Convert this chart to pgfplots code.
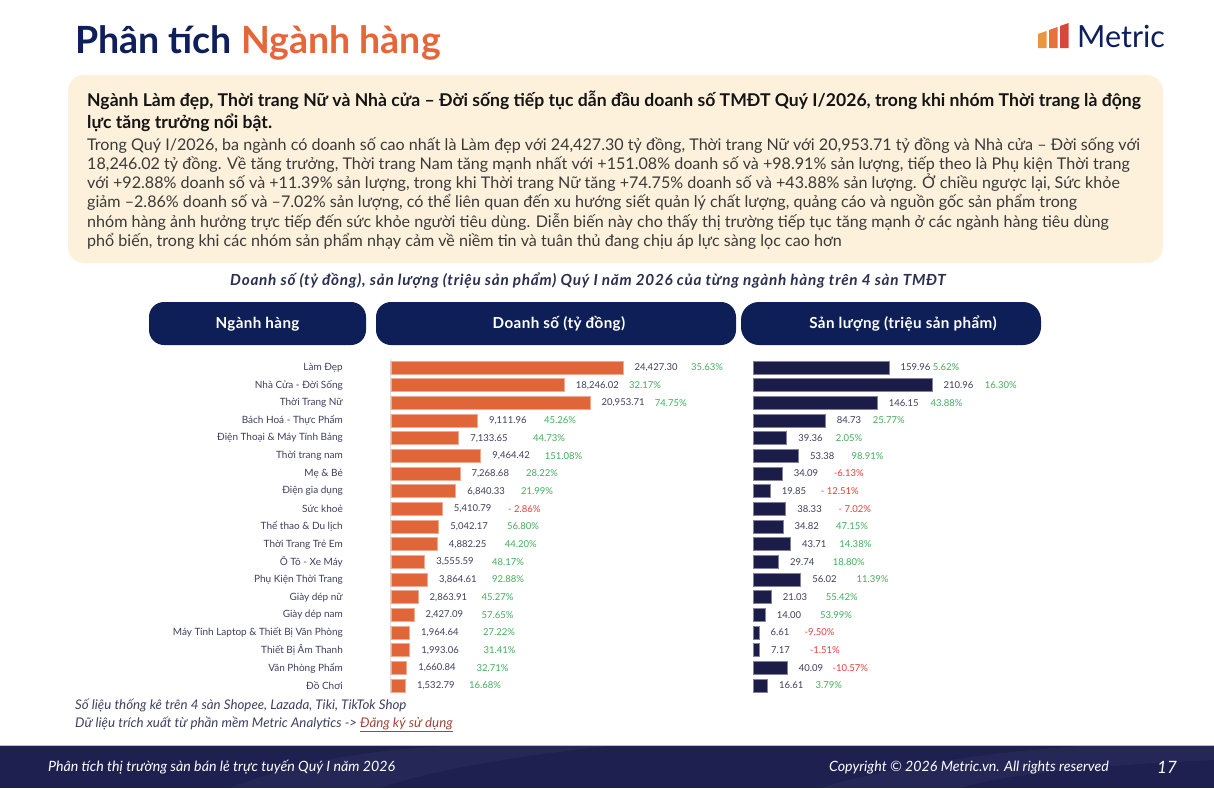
\documentclass[border=0pt]{standalone}
\usepackage{pgfplots}
\pgfplotsset{compat=1.18}
\usepackage{pgfplotstable}
\usepackage{fontspec}
\setmainfont{Lato}
\definecolor{navy}{HTML}{0E1F5B}
\definecolor{pill}{HTML}{0E1F58}
\definecolor{orng}{HTML}{E4673A}
\definecolor{barO}{HTML}{E0663A}
\definecolor{barN}{HTML}{1C1C48}
\definecolor{beige}{HTML}{FDF1DC}
\definecolor{pgreen}{HTML}{45AD5B}
\definecolor{pred}{HTML}{E5403A}
\definecolor{lbl}{HTML}{3D4060}
\definecolor{foot}{HTML}{1E2050}
\definecolor{ttl}{HTML}{2C3050}
\definecolor{body}{HTML}{3A3A3A}
\definecolor{linkred}{HTML}{A0453A}
\definecolor{logoA}{HTML}{E9963F}
\definecolor{logoB}{HTML}{E8703F}
\definecolor{logoC}{HTML}{D9473A}

\pgfplotstableread{
idx rev rpx rpct vol vpx vpct
0 24427.30 31600 35.63 159.96 211.8 5.62
1 18246.02 25074 32.17 210.96 273.2 16.30
2 20953.71 27768 74.75 146.15 209.0 43.88
3 9111.96 16126 45.26 84.73 141.0 25.77
4 7133.65 14968 44.73 39.36 97.3 2.05
5 9464.42 16189 151.08 53.38 115.7 98.91
6 7268.68 14232 28.22 34.09 94.9 -6.13
7 6840.33 13705 21.99 19.85 79.6 {- 12.51}
8 5410.79 12337 {- 2.86} 38.33 100.4 {- 7.02}
9 5042.17 12232 56.80 34.82 97.6 47.15
10 4882.25 11979 44.20 43.71 101.5 14.38
11 3555.59 10653 48.17 29.74 93.7 18.80
12 3864.61 10653 92.88 56.02 121.6 11.39
13 2863.91 9547 45.27 21.03 85.5 55.42
14 2427.09 9547 57.65 14.00 78.7 53.99
15 1964.64 9705 27.22 6.61 60.2 -9.50
16 1993.06 9758 31.41 7.17 66.6 -1.51
17 1660.84 9021 32.71 40.09 93.3 -10.57
18 1532.79 8232 16.68 16.61 73.2 3.79
}\data

\newcommand{\lblfont}{\fontsize{9.5}{11}\selectfont}
\def\pctfmt#1{\pctfmtA#1\relax}
\def\pctfmtA#1#2\relax{\ifx-#1\color{pred}\else\color{pgreen}\fi#1#2\%}
\newcommand{\pctlabel}{\expandafter\pctfmt\expandafter{\pgfplotspointmeta}}
\begin{document}
\begin{tikzpicture}
\useasboundingbox (0,0) rectangle (1214pt,-788pt);
\fill[white] (0,0) rectangle (1214pt,-788pt);

% title
\node[anchor=base west, inner sep=0, font=\fontsize{37.5}{42}\selectfont\bfseries, text=navy] at (75pt,-53pt) {Phân tích \textcolor{orng}{Ngành hàng}};
% logo
\fill[logoA] (1038pt,-48pt) -- (1046.5pt,-48pt) -- (1046.5pt,-31pt) -- (1038pt,-34pt) -- cycle;
\fill[logoB] (1049pt,-48pt) -- (1057.5pt,-48pt) -- (1057.5pt,-27pt) -- (1049pt,-30pt) -- cycle;
\fill[logoC] (1060pt,-48pt) -- (1068.5pt,-48pt) -- (1068.5pt,-23pt) -- (1060pt,-26pt) -- cycle;
\node[anchor=base west, inner sep=0, font=\fontsize{30.5}{32}\selectfont, text=navy] at (1077pt,-47pt) {Metric};

% summary box
\fill[beige, rounded corners=16pt] (68pt,-75pt) rectangle (1163pt,-263pt);
\begin{scope}[every node/.style={anchor=base west, inner sep=0}]
\node[font=\fontsize{17.6}{20}\selectfont\bfseries, text=black!92] at (87pt,-106pt) {Ngành Làm đẹp, Thời trang Nữ và Nhà cửa – Đời sống tiếp tục dẫn đầu doanh số TMĐT Quý I/2026, trong khi nhóm Thời trang là động};
\node[font=\fontsize{17.6}{20}\selectfont\bfseries, text=black!92] at (87pt,-128pt) {lực tăng trưởng nổi bật.};
\tikzset{bt/.style={font=\fontsize{16.1}{18}\selectfont, text=body}}
\node[bt] at (87pt,-150pt) {Trong Quý I/2026, ba ngành có doanh số cao nhất là Làm đẹp với 24,427.30 tỷ đồng, Thời trang Nữ với 20,953.71 tỷ đồng và Nhà cửa – Đời sống với};
\node[bt] at (87pt,-169.3pt) {18,246.02 tỷ đồng. Về tăng trưởng, Thời trang Nam tăng mạnh nhất với +151.08\% doanh số và +98.91\% sản lượng, tiếp theo là Phụ kiện Thời trang};
\node[bt] at (87pt,-188.6pt) {với +92.88\% doanh số và +11.39\% sản lượng, trong khi Thời trang Nữ tăng +74.75\% doanh số và +43.88\% sản lượng. Ở chiều ngược lại, Sức khỏe};
\node[bt] at (87pt,-207.9pt) {giảm –2.86\% doanh số và –7.02\% sản lượng, có thể liên quan đến xu hướng siết quản lý chất lượng, quảng cáo và nguồn gốc sản phẩm trong};
\node[bt] at (87pt,-227.2pt) {nhóm hàng ảnh hưởng trực tiếp đến sức khỏe người tiêu dùng. Diễn biến này cho thấy thị trường tiếp tục tăng mạnh ở các ngành hàng tiêu dùng};
\node[bt] at (87pt,-246.5pt) {phổ biến, trong khi các nhóm sản phẩm nhạy cảm về niềm tin và tuân thủ đang chịu áp lực sàng lọc cao hơn};
\end{scope}

% chart title
\node[font=\fontsize{15.3}{17}\selectfont\bfseries\itshape\addfontfeature{LetterSpace=4.8}, text=ttl] at (588pt,-281pt) {Doanh số (tỷ đồng), sản lượng (triệu sản phẩm) Quý I năm 2026 của từng ngành hàng trên 4 sàn TMĐT};

% header pills
\fill[pill, rounded corners=15pt] (149pt,-302pt) rectangle (366pt,-345pt);
\fill[pill, rounded corners=15pt] (376pt,-302pt) rectangle (736pt,-345pt);
\fill[pill, rounded corners=18pt] (741pt,-302pt) rectangle (1041pt,-345pt);
\begin{scope}[every node/.style={text=white, font=\fontsize{15.2}{17}\selectfont\bfseries\addfontfeature{LetterSpace=2.5}}]
\node at (257.5pt,-324pt) {Ngành hàng};
\node at (559pt,-324pt) {Doanh số (tỷ đồng)};
\node at (903pt,-324pt) {Sản lượng (triệu sản phẩm)};
\end{scope}

% revenue chart
\begin{axis}[at={(390.8pt,-358.7pt)}, anchor=north west, scale only axis,
  width=332.5pt, height=335.7pt, xmin=0, xmax=35000, ymin=-0.5, ymax=18.5,
  y dir=reverse, axis x line=none, axis y line*=left,
  y axis line style={-, draw=black!13, line width=1pt},
  ytick={0,...,18}, major tick length=0pt, ytick style={draw=none},
  yticklabels={Làm Đẹp, Nhà Cửa - Đời Sống, Thời Trang Nữ, Bách Hoá - Thực Phẩm, Điện Thoại \& Máy Tính Bảng, Thời trang nam, Mẹ \& Bé, Điện gia dụng, Sức khoẻ, Thể thao \& Du lịch, Thời Trang Trẻ Em, Ô Tô - Xe Máy, Phụ Kiện Thời Trang, Giày dép nữ, Giày dép nam, Máy Tính Laptop \& Thiết Bị Văn Phòng, Thiết Bị Âm Thanh, Văn Phòng Phẩm, Đồ Chơi},
  yticklabel style={font=\fontsize{10}{12}\selectfont, text=lbl, anchor=east, inner sep=0pt, xshift=-47.8pt},
  clip=false, /pgf/number format/assume math mode=true]
\addplot[xbar, bar width=13pt, fill=barO, draw=barO!55!white, line width=0.6pt] table[x=rev, y=idx]{\data};
\addplot[draw=none, mark=none, point meta=x,
  nodes near coords={\pgfmathprintnumber[fixed, fixed zerofill, precision=2, 1000 sep={,}]{\pgfplotspointmeta}},
  nodes near coords style={anchor=west, inner sep=0pt, xshift=11.5pt, font=\lblfont, text=lbl}]
  table[x=rev, y=idx]{\data};
\addplot[draw=none, mark=none, point meta=explicit symbolic,
  nodes near coords={\pctlabel},
  nodes near coords style={anchor=west, inner sep=0pt, font=\lblfont}]
  table[x=rpx, y=idx, meta=rpct]{\data};
\end{axis}

% volume chart
\begin{axis}[at={(753.3pt,-358.7pt)}, anchor=north west, scale only axis,
  width=254.1pt, height=335.7pt, xmin=0, xmax=300, ymin=-0.5, ymax=18.5,
  y dir=reverse, axis lines=none, clip=false,
  /pgf/number format/assume math mode=true]
\addplot[xbar, bar width=13pt, fill=barN, draw=barN!55!white, line width=0.6pt] table[x=vol, y=idx]{\data};
\addplot[draw=none, mark=none, point meta=x,
  nodes near coords={\pgfmathprintnumber[fixed, fixed zerofill, precision=2, 1000 sep={,}]{\pgfplotspointmeta}},
  nodes near coords style={anchor=west, inner sep=0pt, xshift=11.5pt, font=\lblfont, text=lbl}]
  table[x=vol, y=idx]{\data};
\addplot[draw=none, mark=none, point meta=explicit symbolic,
  nodes near coords={\pctlabel},
  nodes near coords style={anchor=west, inner sep=0pt, font=\lblfont}]
  table[x=vpx, y=idx, meta=vpct]{\data};
\end{axis}

% footnotes
\begin{scope}[every node/.style={anchor=base west, inner sep=0, text=lbl, font=\fontsize{13.3}{15}\selectfont\itshape}]
\node at (75pt,-709pt) {Số liệu thống kê trên 4 sàn Shopee, Lazada, Tiki, TikTok Shop};
\node at (75pt,-727pt) {Dữ liệu trích xuất từ phần mềm Metric Analytics -> \textcolor{linkred}{\underline{Đăng ký sử dụng}}};
\end{scope}

% footer
\fill[foot] (0,-745pt) rectangle (1214pt,-788pt);
\fill[white, opacity=0.035] (230pt,-788pt) .. controls (300pt,-760pt) and (380pt,-748pt) .. (470pt,-745pt) -- (620pt,-745pt) .. controls (520pt,-755pt) and (430pt,-770pt) .. (380pt,-788pt) -- cycle;
\fill[white, opacity=0.035] (820pt,-788pt) .. controls (900pt,-765pt) and (1000pt,-750pt) .. (1100pt,-745pt) -- (1214pt,-745pt) -- (1214pt,-760pt) .. controls (1100pt,-765pt) and (1000pt,-775pt) .. (960pt,-788pt) -- cycle;
\draw[black!25, line width=0.8pt] (0,-745pt) -- (1214pt,-745pt);
\begin{scope}[every node/.style={inner sep=0, text=white}]
\node[anchor=base west, font=\fontsize{14.2}{16}\selectfont\itshape] at (48pt,-771pt) {Phân tích thị trường sàn bán lẻ trực tuyến Quý I năm 2026};
\node[anchor=base east, font=\fontsize{14.2}{16}\selectfont\itshape] at (1109pt,-771pt) {Copyright © 2026 Metric.vn. All rights reserved};
\node[anchor=base west, font=\fontsize{17}{18}\selectfont\itshape] at (1157pt,-773pt) {17};
\end{scope}
\end{tikzpicture}
\end{document}
